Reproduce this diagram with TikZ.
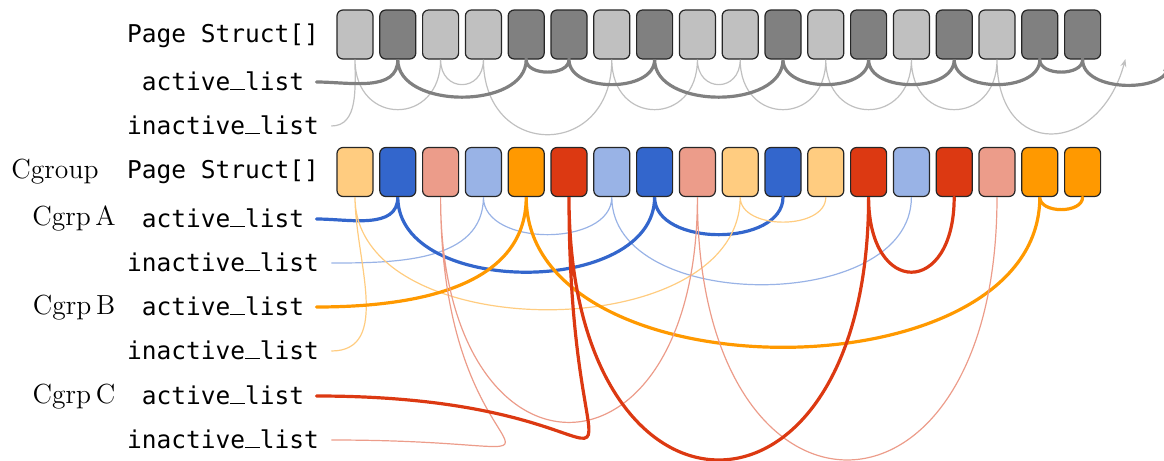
\documentclass[tikz,border=0pt]{standalone}
\usepackage{fontspec}
\newfontfamily\monofont{DejaVu Sans Mono}
\usetikzlibrary{arrows.meta}
\definecolor{cgA}{HTML}{3366CC}
\definecolor{cgAl}{HTML}{99B3E6}
\definecolor{cgB}{HTML}{FF9900}
\definecolor{cgBl}{HTML}{FFCC80}
\definecolor{cgC}{HTML}{DC3912}
\definecolor{cgCl}{HTML}{EC9C8A}
\definecolor{gD}{HTML}{808080}
\definecolor{gL}{HTML}{C0C0C0}
\newcommand\usc{\makebox[0.602em][c]{\rule{0.6em}{0.055em}}}
\begin{document}
\begin{tikzpicture}[x=0.5pt,y=0.5pt,
  page/.style={draw=black!85, line width=0.6pt, rounded corners=3pt,
    minimum width=18pt, minimum height=24.5pt, inner sep=0pt},
  lab/.style={font=\monofont\fontsize{12.25pt}{14pt}\selectfont, anchor=base,
    inner xsep=6pt, inner ysep=0pt, text height=8pt, text depth=0pt},
  grp/.style={font=\fontsize{13.8pt}{16pt}\selectfont, anchor=base},
  act/.style={line width=1.6pt, line cap=round},
  inact/.style={line width=0.6pt},
  arc/.style={out=-90,in=-90},
  ]
\clip (0,0) rectangle (1164,-461);
% top row
\foreach \c [count=\i] in {gL,gD,gL,gL,gD,gD,gL,gD,gL,gL,gD,gL,gD,gL,gD,gL,gD,gD}
  \node[page, fill=\c] (t\i) at ({355+42.8*(\i-1)}, -34.5) {};
\coordinate (t19) at ({355+42.8*18}, -59);
\coordinate (t20) at ({355+42.8*19}, -59);
% bottom row
\foreach \c [count=\i] in {cgBl,cgA,cgCl,cgAl,cgB,cgC,cgAl,cgA,cgCl,cgBl,cgA,cgBl,cgC,cgAl,cgC,cgCl,cgB,cgB}
  \node[page, fill=\c] (b\i) at ({355+42.8*(\i-1)}, -172) {};
% labels
\node[lab] (tps)  at (223,-42)  {Page Struct[]};
\node[lab] (tact) at (223,-90)  {active\usc list};
\node[lab] (tina) at (223,-134) {inactive\usc list};
\node[lab] (bps)  at (223,-178) {Page Struct[]};
\node[lab] (aact) at (223,-227) {active\usc list};
\node[lab] (aina) at (223,-271) {inactive\usc list};
\node[lab] (bact) at (223,-315) {active\usc list};
\node[lab] (bina) at (223,-359) {inactive\usc list};
\node[lab] (cact) at (223,-404) {active\usc list};
\node[lab] (cina) at (223,-448) {inactive\usc list};
\node[grp] (cg) at (55,-178) {Cgroup};
\node[grp] (ga) at (74,-225) {Cgrp\,A};
\node[grp] (gb) at (74,-314) {Cgrp\,B};
\node[grp] (gc) at (74,-403) {Cgrp\,C};
% top lists
\draw[inact, gL, -{Stealth[length=4pt,width=3pt]}] (tina.east) to[out=0,in=-90] (t1.south)
  to[arc,looseness=2] (t3.south) to[arc,looseness=2] (t4.south)
  to[arc,looseness=2] (t7.south) to[arc,looseness=2] (t9.south)
  to[arc,looseness=2] (t10.south) to[arc,looseness=2] (t12.south)
  to[arc,looseness=2] (t14.south) to[arc,looseness=2] (t16.south)
  to[out=-90,in=-105,looseness=2] (t19);
\draw[act, gD, -{Stealth[length=6pt,width=5pt]}] (tact.east) to[out=0,in=-90] (t2.south)
  to[arc] (t5.south) to[arc] (t6.south) to[arc] (t8.south)
  to[arc] (t11.south) to[arc] (t13.south) to[arc] (t15.south)
  to[arc] (t17.south) to[arc] (t18.south) to[arc] (t20);
% group A
\draw[inact, cgAl] (aina.east) to[out=0,in=-90] (b4.south)
  to[arc] (b7.south) to[arc] (b14.south);
\draw[act, cgA] (aact.east) to[out=0,in=-90] (b2.south)
  to[arc] (b8.south) to[arc] (b11.south);
% group B
\draw[inact, cgBl] (bina.east) to[out=0,in=-90] (b1.south)
  to[arc] (b10.south) to[arc] (b12.south);
\draw[act, cgB] (bact.east) to[out=0,in=-90] (b5.south)
  to[arc] (b17.south) to[arc] (b18.south);
% group C
\draw[inact, cgCl] (cina.east) to[out=0,in=-90,looseness=3] (b3.south)
  to[arc,looseness=3] (b9.south) to[arc,looseness=3] (b16.south);
\draw[act, cgC] (cact.east) to[out=0,in=-90,looseness=3] (b6.south)
  to[arc,looseness=3] (b13.south) to[arc,looseness=3] (b15.south);
\end{tikzpicture}
\end{document}
